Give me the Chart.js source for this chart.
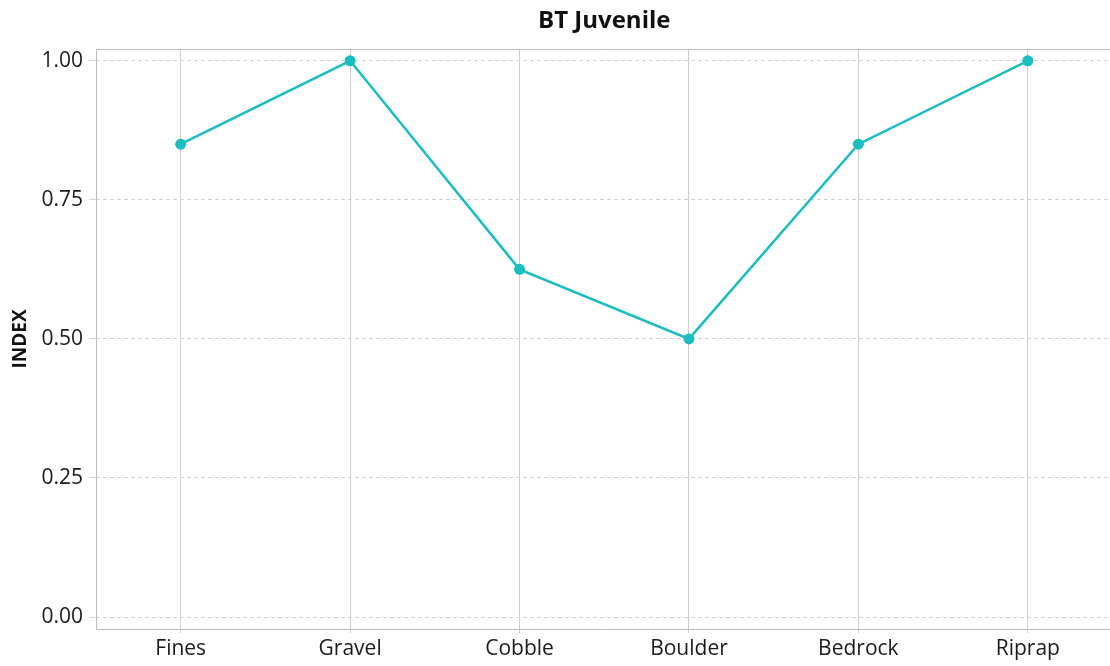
<!DOCTYPE html>
<html>
<head>
<meta charset="utf-8">
<script src="https://cdn.jsdelivr.net/npm/chart.js@4.4.1/dist/chart.umd.min.js"></script>
<style>
  html, body { margin: 0; padding: 0; background: #fff; overflow: hidden; }
  #wrap { position: relative; width: 1118px; height: 666px; }
</style>
</head>
<body>
<div id="wrap"><canvas id="chart"></canvas></div>
<script>
// Substrate categories and habitat suitability index
const categories = ['Fines', 'Gravel', 'Cobble', 'Boulder', 'Bedrock', 'Riprap'];
const indexValues = [0.85, 1.00, 0.625, 0.50, 0.85, 1.00];
const yTicks = [0, 0.25, 0.5, 0.75, 1.0];

const FONT = "'Open Sans', 'Liberation Sans', sans-serif";
const TEAL = '#1cbdc1';
const GRID = '#cdcdcd';
const AXIS = '#bdbdbd';

// Solid frame lines on the left, top and bottom of the plot area
const frame = {
  id: 'frame',
  afterDraw(chart) {
    const { ctx, chartArea } = chart;
    const l = Math.round(chartArea.left) + 0.5;
    const t = Math.round(chartArea.top) + 0.5;
    const b = Math.round(chartArea.bottom) + 0.5;
    ctx.save();
    ctx.setLineDash([]);
    ctx.strokeStyle = AXIS;
    ctx.lineWidth = 1;
    ctx.beginPath();
    ctx.moveTo(chartArea.right, t);
    ctx.lineTo(l, t);
    ctx.lineTo(l, b);
    ctx.lineTo(chartArea.right, b);
    ctx.stroke();
    ctx.restore();
  }
};

new Chart(document.getElementById('chart'), {
  type: 'line',
  data: {
    labels: categories,
    datasets: [{
      label: 'BT Juvenile',
      data: indexValues,
      borderColor: TEAL,
      backgroundColor: TEAL,
      borderWidth: 2.5,
      pointRadius: 5.5,
      pointHoverRadius: 5.5,
      pointBackgroundColor: TEAL,
      pointBorderWidth: 0,
      tension: 0,
      clip: false
    }]
  },
  options: {
    responsive: true,
    maintainAspectRatio: false,
    animation: false,
    layout: { padding: { left: 0, right: 1, top: 0, bottom: 0 } },
    plugins: {
      legend: { display: false },
      tooltip: { enabled: false },
      title: {
        display: true,
        text: 'BT Juvenile',
        fullSize: false,
        color: '#111',
        font: { family: FONT, size: 24, weight: 'bold' },
        padding: { top: 7, bottom: 13 }
      }
    },
    scales: {
      x: {
        offset: true,
        grid: {
          offset: false,
          color: GRID,
          lineWidth: 1,
          drawTicks: true,
          tickLength: 4,
          tickColor: GRID
        },
        border: { display: false },
        ticks: {
          color: '#1a1a1a',
          font: { family: FONT, size: 21 },
          padding: 3,
          maxRotation: 0
        },
        afterFit(scale) { scale.height = 37; }
      },
      y: {
        min: -0.0215,
        max: 1.0215,
        afterBuildTicks(scale) {
          scale.ticks = yTicks.map(v => ({ value: v }));
        },
        grid: {
          color: '#d2d2d2',
          lineWidth: 1,
          drawTicks: true,
          tickLength: 7,
          tickColor: '#d2d2d2'
        },
        border: { display: false, dash: [4, 3] },
        title: {
          display: true,
          text: 'INDEX',
          color: '#111',
          font: { family: FONT, size: 19, weight: 'bold' },
          padding: { top: 9, bottom: 4 }
        },
        ticks: {
          color: '#1a1a1a',
          font: { family: FONT, size: 21 },
          padding: 6,
          callback: v => Number(v).toFixed(2)
        },
        afterFit(scale) { scale.width = 96; }
      }
    }
  },
  plugins: [frame]
});
</script>
</body>
</html>
